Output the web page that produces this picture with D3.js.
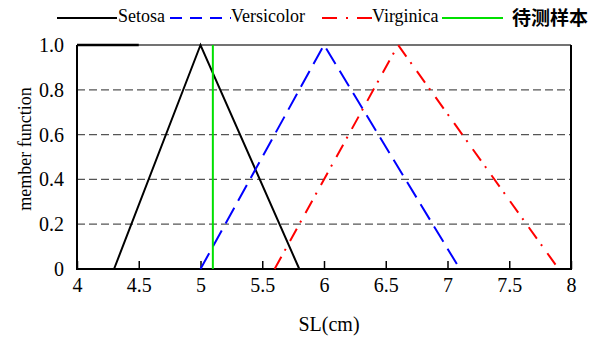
<!DOCTYPE html>
<html>
<head>
<meta charset="utf-8">
<script src="https://cdn.jsdelivr.net/npm/d3@7"></script>
<style>
  body { margin: 0; background: #fff; }
  svg text { font-family: "Times New Roman", "Liberation Serif", serif !important; }
  svg text.cjk { font-family: "Noto Sans CJK SC", sans-serif !important; }
</style>
</head>
<body>
<svg id="chart"></svg>
<script>
// triangle membership functions (x in cm, y membership)
const setosa = [[4.3, 0], [5.0, 1], [5.8, 0]];
const versicolor = [[5.0, 0], [6.0, 1], [7.1, 0]];
const virginica = [[5.6, 0], [6.6, 1], [7.9, 0]];
const sample = [[5.1, 0], [5.1, 1]];
const topSegment = [[4, 1], [4.5, 1]];

const xTicks = [4, 4.5, 5, 5.5, 6, 6.5, 7, 7.5, 8];
const yTicks = [0, 0.2, 0.4, 0.6, 0.8, 1.0];
const gridVals = [0.2, 0.4, 0.6, 0.8];

const width = 592, height = 338;
const margin = { top: 45, right: 21, bottom: 69, left: 77 };

const svg = d3.select("#chart").attr("width", width).attr("height", height);

const x = d3.scaleLinear().domain([4, 8]).range([margin.left, width - margin.right]);
const y = d3.scaleLinear().domain([0, 1]).range([height - margin.bottom, margin.top]);

// dashed grid
svg.append("g")
  .selectAll("line")
  .data(gridVals)
  .join("line")
  .attr("x1", x(4)).attr("x2", x(8))
  .attr("y1", d => y(d)).attr("y2", d => y(d))
  .attr("stroke", "#555")
  .attr("stroke-width", 1.2)
  .attr("stroke-dasharray", "8,4");

// x axis with inward ticks
const xAxis = g => g
  .attr("transform", `translate(0,${y(0)})`)
  .call(d3.axisBottom(x).tickValues(xTicks).tickSize(-8).tickPadding(9).tickFormat(d3.format("")))
  .call(g => g.select(".domain").remove())
  .call(g => g.selectAll(".tick line").attr("stroke", "#000").attr("stroke-width", 1.5))
  .call(g => g.selectAll(".tick text").attr("font-size", 20).attr("fill", "#000"));
svg.append("g").call(xAxis);

const yAxis = g => g
  .attr("transform", `translate(${x(4)},0)`)
  .call(d3.axisLeft(y).tickValues(yTicks).tickSize(0).tickPadding(13)
    .tickFormat(d => d === 0 ? "0" : d3.format(".1f")(d)))
  .call(g => g.select(".domain").remove())
  .call(g => g.selectAll(".tick text").attr("font-size", 20).attr("fill", "#000"));
svg.append("g").call(yAxis);

// frame: top thinner, others heavy
svg.append("line")
  .attr("x1", x(4)).attr("x2", x(8)).attr("y1", y(1)).attr("y2", y(1))
  .attr("stroke", "#444").attr("stroke-width", 1.5);
svg.append("path")
  .attr("d", `M${x(4)},${y(1)}V${y(0)}H${x(8)}V${y(1)}`)
  .attr("fill", "none").attr("stroke", "#000").attr("stroke-width", 2);

const line = d3.line().x(d => x(d[0])).y(d => y(d[1]));

svg.append("path")
  .attr("d", line(topSegment))
  .attr("stroke", "#000").attr("stroke-width", 2.5);

const series = [
  { name: "Setosa", data: setosa, color: "#000", dash: null, legDash: null },
  { name: "Versicolor", data: versicolor, color: "#0000ff", dash: "18,8", legDash: "12,8" },
  { name: "Virginica", data: virginica, color: "#ff0000", dash: "14,7,2,9", legDash: "15,9,2,9" },
  { name: "待测样本", data: sample, color: "#00e000", dash: null, legDash: null }
];

svg.append("g")
  .selectAll("path")
  .data(series)
  .join("path")
  .attr("d", d => line(d.data))
  .attr("fill", "none")
  .attr("stroke", d => d.color)
  .attr("stroke-width", 2)
  .attr("stroke-dasharray", d => d.dash);

// legend
const legendPos = [
  { x1: 57, x2: 117, tx: 118 },
  { x1: 170, x2: 231, tx: 231 },
  { x1: 322, x2: 372, tx: 372 },
  { x1: 442, x2: 503, tx: 512 }
];
const lg = svg.append("g");
series.forEach((s, i) => {
  const p = legendPos[i];
  lg.append("line")
    .attr("x1", p.x1).attr("x2", p.x2).attr("y1", 18).attr("y2", 18)
    .attr("stroke", s.color).attr("stroke-width", 2)
    .attr("stroke-dasharray", s.legDash);
  const t = lg.append("text")
    .attr("x", p.tx).attr("y", 22)
    .attr("font-size", 18)
    .text(s.name);
  if (i === 3) {
    t.attr("class", "cjk").attr("font-weight", "bold").attr("font-size", 19).attr("y", 25);
  }
});

// axis titles
svg.append("text")
  .attr("x", 329).attr("y", 331)
  .attr("text-anchor", "middle")
  .attr("font-size", 20)
  .text("SL(cm)");

svg.append("text")
  .attr("transform", `translate(31,149) rotate(-90)`)
  .attr("text-anchor", "middle")
  .attr("font-size", 18)
  .text("member function");
</script>
</body>
</html>
